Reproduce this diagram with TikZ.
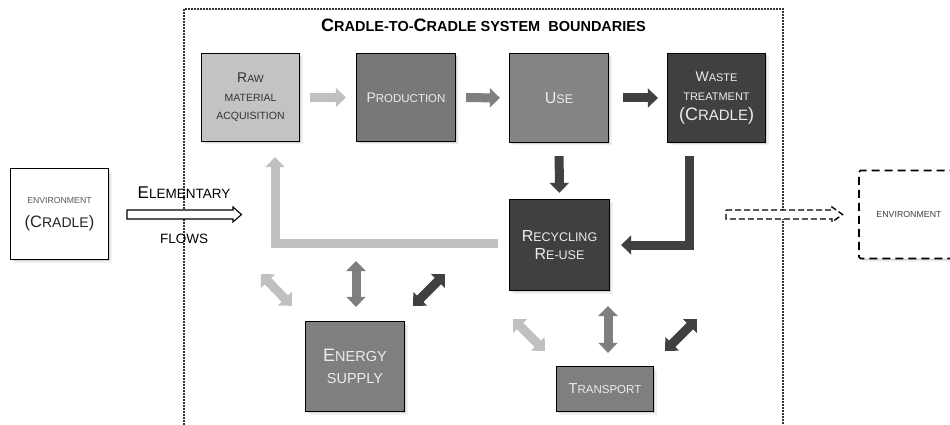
\documentclass[tikz,border=0pt]{standalone}
\usepackage{fontspec}
\setmainfont{Liberation Sans}
\usetikzlibrary{arrows.meta,shadows,calc}

\definecolor{lightg}{HTML}{C0C0C0}
\definecolor{midg}{HTML}{7F7F7F}
\definecolor{darkg}{HTML}{404040}
\definecolor{rawfill}{HTML}{C3C3C3}
\definecolor{prodfill}{HTML}{787878}
\definecolor{usefill}{HTML}{858585}
\definecolor{boxtext}{HTML}{ECECEC}
\definecolor{boundc}{HTML}{333333}

% a larger capital inside small-caps style words
\newcommand\mkcap[2]{{\fontsize{#1}{#1}\selectfont #2}}

\begin{document}
\begin{tikzpicture}[x=1pt,y=-1pt,
  softshadow/.style={
    drop shadow={shadow xshift=1.5pt, shadow yshift=-1.5pt, opacity=.25},
    drop shadow={shadow xshift=3pt, shadow yshift=-3pt, opacity=.12}},
  stage/.style={draw=black, line width=1.3pt, align=center, inner sep=0pt, softshadow},
  blk/.style={line width=9pt, line cap=butt, line join=miter,
    -{Triangle[length=10pt,width=19pt]}},
  dbl/.style={line width=9pt, line cap=butt,
    {Triangle[length=10pt,width=19pt]}-{Triangle[length=10pt,width=19pt]}},
  hollow/.style={draw=black, fill=white, line width=1.1pt, line join=miter},
  lbl/.style={inner sep=0pt, anchor=base},
]
\useasboundingbox (0,0) rectangle (950,425);

% system boundary (open at the bottom)
\draw[boundc, line width=1.7pt, dash pattern=on 1.7pt off 1.3pt]
  (184,425) -- (184,9) -- (783,9) -- (783,425);
\node[lbl, font=\bfseries\fontsize{14.5}{14.5}\selectfont] (title) at (483.5,31.5)
  {\mkcap{18}{C}RADLE-TO-\mkcap{18}{C}RADLE SYSTEM\ \ BOUNDARIES};

% process stages
\node[stage, fill=rawfill, text=black!80, minimum width=98pt, minimum height=88pt,
  font=\fontsize{10.5}{18.5}\selectfont] (raw) at (250.5,97.5)
  {\mkcap{14}{R}AW\\MATERIAL\\ACQUISITION};
\node[stage, fill=prodfill, text=boxtext, minimum width=99pt, minimum height=88pt,
  font=\fontsize{11.5}{14}\selectfont] (prod) at (406,97.5)
  {\mkcap{14}{P}RODUCTION};
\node[stage, fill=usefill, text=boxtext, minimum width=99pt, minimum height=89pt,
  font=\fontsize{12.5}{14}\selectfont] (use) at (559,98)
  {\mkcap{16}{U}SE};
\node[stage, fill=darkg, text=boxtext, minimum width=98pt, minimum height=89pt,
  font=\fontsize{11}{19.5}\selectfont] (waste) at (716.5,98)
  {\mkcap{14}{W}ASTE\\TREATMENT\\\mkcap{18}{(C}\mkcap{15}{RADLE}\mkcap{18}{)}};
\node[stage, fill=darkg, text=boxtext, minimum width=100pt, minimum height=91pt,
  font=\fontsize{12.5}{18.5}\selectfont] (rec) at (559.5,245)
  {\mkcap{16}{R}ECYCLING\\\mkcap{16}{R}E-USE};
\node[stage, fill=midg, text=boxtext, minimum width=99pt, minimum height=90pt,
  font=\fontsize{14.5}{22}\selectfont] (energy) at (355,366.5)
  {\mkcap{18}{E}NERGY\\SUPPLY};
\node[stage, fill=midg, text=boxtext, minimum width=97pt, minimum height=45pt,
  font=\fontsize{11.5}{14}\selectfont] (transport) at (605,389)
  {\mkcap{14.5}{T}RANSPORT};

% environment outside the system
\node[stage, fill=white, text=black!85, minimum width=98pt, minimum height=91pt,
  font=\fontsize{14}{24}\selectfont] (envin) at (59.5,214)
  {{\color{black!65}\fontsize{8.7}{8.7}\selectfont ENVIRONMENT}\\
   \mkcap{16.5}{(C}RADLE\mkcap{16.5}{)}};
\node[draw=black, line width=1.7pt, dash pattern=on 8pt off 5pt, fill=white,
  rounded corners=1.5pt, softshadow,
  minimum width=100pt, minimum height=88pt, inner sep=0pt,
  text=black!75, font=\fontsize{8.8}{8.8}\selectfont] (envout) at (909,214.5)
  {ENVIRONMENT};

% elementary flows
\draw[hollow] (127,210) -- (233,210) -- (233,207) -- (241.5,214.5)
  -- (233,222) -- (233,219) -- (127,219) -- cycle;
\node[lbl, font=\fontsize{13.5}{13.5}\selectfont] (ef1) at (184,198)
  {\mkcap{17}{E}LEMENTARY};
\node[lbl, font=\fontsize{13.5}{13.5}\selectfont] (ef2) at (184,243)
  {FLOWS};
\draw[hollow, line width=1.4pt, dash pattern=on 6pt off 3pt] (726,210) -- (832,210) -- (832,207)
  -- (842.5,214.5) -- (832,222) -- (832,219) -- (726,219) -- cycle;

% main chain
\draw[blk, draw=lightg, shorten <=10pt, shorten >=10pt] (raw) -- (prod);
\draw[blk, draw=midg, shorten <=10pt, shorten >=9pt] (prod) -- (use);
\draw[blk, draw=darkg, shorten <=14pt, shorten >=9pt] (use) -- (waste);
\draw[blk, draw=darkg, shorten <=13pt, shorten >=6pt] (use) -- (rec);
\draw[blk, draw=darkg] ([xshift=-27pt,yshift=-13pt]waste.south)
  |- ([xshift=11pt]rec.east);
\draw[blk, draw=lightg] ([xshift=-11pt,yshift=1.5pt]rec.west)
  -| ([xshift=24.5pt,yshift=-15pt]raw.south);

% exchanges with energy supply and transport
\coordinate (eA) at (261,274);
\coordinate (eB) at (356,261);
\coordinate (eC) at (445,274);
\coordinate (tA) at (513,319);
\coordinate (tB) at (608,306);
\coordinate (tC) at (697,319);
\draw[dbl, draw=lightg] (eA) -- ([xshift=-13pt,yshift=15pt]energy.north west);
\draw[dbl, draw=midg] (eB) -- ([xshift=1pt,yshift=14pt]energy.north);
\draw[dbl, draw=darkg] (eC) -- ([xshift=8pt,yshift=15pt]energy.north east);
\draw[dbl, draw=lightg] (tA) -- ([xshift=-11pt,yshift=15pt]transport.north west);
\draw[dbl, draw=midg] (tB) -- ([xshift=3pt,yshift=13pt]transport.north);
\draw[dbl, draw=darkg] (tC) -- ([xshift=11pt,yshift=15pt]transport.north east);
\end{tikzpicture}
\end{document}
